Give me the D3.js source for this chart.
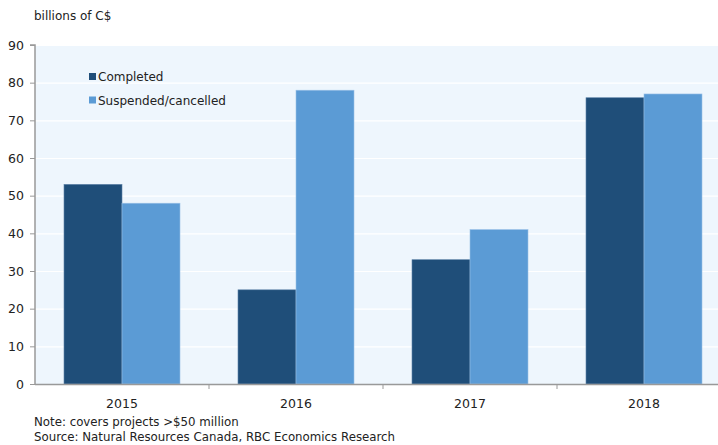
<!DOCTYPE html>
<html><head><meta charset="utf-8">
<script src="https://cdn.jsdelivr.net/npm/d3@7"></script>
<style>body{margin:0;background:#fff;overflow:hidden}svg{display:block}text{font-family:"DejaVu Sans",sans-serif;fill:#222}</style>
</head><body>
<svg id="c" width="718" height="445"></svg>
<script>
const categories = ["2015","2016","2017","2018"];
const seriesNames = ["Completed","Suspended/cancelled"];
const completed = [53,25,33,76];
const suspended = [48,78,41,77];
const yTicks = [0,10,20,30,40,50,60,70,80,90];
const colors = ["#1F4E79","#5B9BD5"];

const svg = d3.select("#c");
const L = 35, T = 45, B = 384, R = 731;
const x = d3.scaleBand().domain(categories).range([L,R]).paddingInner(0).paddingOuter(0);
const y = d3.scaleLinear().domain([0,90]).range([B,T]);

svg.append("rect").attr("x",L).attr("y",T).attr("width",R-L).attr("height",B-T).attr("fill","#EEF6FD");
svg.append("g").selectAll("line").data(yTicks.slice(1)).join("line")
  .attr("x1",L).attr("x2",R).attr("y1",d=>y(d)+0.5).attr("y2",d=>y(d)+0.5)
  .attr("stroke","#fff").attr("stroke-width",1.2);

const data = categories.map((c,i)=>({c, v:[completed[i],suspended[i]]}));
const bw = 58;
data.forEach(d=>{
  d.v.forEach((v,j)=>{
    const cx = x(d.c)+x.bandwidth()/2;
    svg.append("rect").attr("x", cx + (j===0?-bw:0)).attr("y", y(v)).attr("width", bw).attr("height", B-y(v))
      .attr("fill", colors[j]).attr("stroke", j===0?"#5E83A8":"#9CC2E8").attr("stroke-width",0.6);
  });
});

// y axis
const ya = d3.axisLeft(y).tickValues(yTicks).tickSize(5).tickPadding(6);
const gy = svg.append("g").attr("transform",`translate(${L},0)`).call(ya);
gy.select(".domain").attr("stroke","#999").attr("stroke-width",1.5).attr("d",`M-5,${T}H0V${B}`);
gy.selectAll(".tick line").attr("stroke","#999");
gy.selectAll(".tick text").attr("font-size",12.5).attr("fill","#222").style("font-family","DejaVu Sans");

// x axis
svg.append("line").attr("x1",L).attr("x2",R).attr("y1",B+0.5).attr("y2",B+0.5).attr("stroke","#999").attr("stroke-width",1.5);
svg.append("g").selectAll("line").data(categories.slice(1)).join("line")
  .attr("x1",d=>x(d)).attr("x2",d=>x(d)).attr("y1",B).attr("y2",B+5).attr("stroke","#999");
svg.append("g").selectAll("text").data(categories).join("text")
  .attr("x",d=>x(d)+x.bandwidth()/2).attr("y",408).attr("text-anchor","middle").attr("font-size",12.5).text(d=>d);

// legend
seriesNames.forEach((s,i)=>{
  const ly = 77 + i*23.5;
  svg.append("rect").attr("x",89).attr("y",ly-4).attr("width",7).attr("height",7).attr("fill",colors[i]);
  svg.append("text").attr("x",98).attr("y",ly+4).attr("font-size",12).text(s);
});

svg.append("text").attr("x",34).attr("y",20).attr("font-size",12).text("billions of C$");
svg.append("text").attr("x",34).attr("y",426).attr("font-size",11.8).text("Note: covers projects >$50 million");
svg.append("text").attr("x",34).attr("y",441).attr("font-size",11.8).text("Source: Natural Resources Canada, RBC Economics Research");
</script>
</body></html>
